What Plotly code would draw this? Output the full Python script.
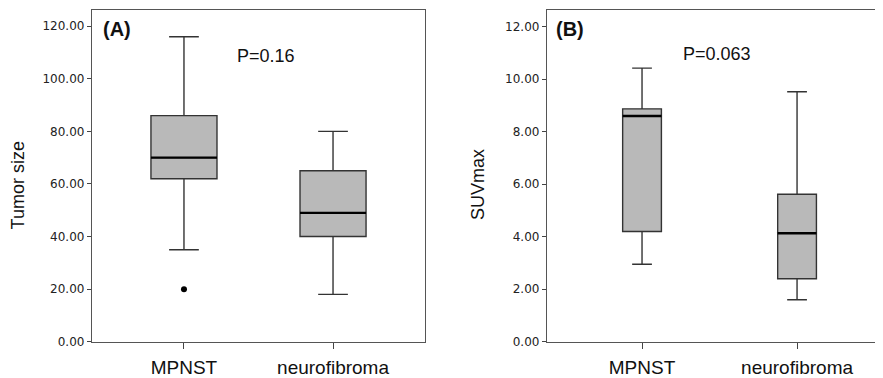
import plotly.graph_objects as go

categories = ["MPNST", "neurofibroma"]

# Panel A: Tumor size
a_q1 = [62.0, 40.0]
a_median = [70.0, 49.0]
a_q3 = [86.0, 65.0]
a_lower = [35.0, 18.0]
a_upper = [116.0, 80.0]
a_outliers_x = ["MPNST"]
a_outliers_y = [20.0]
a_ticks = [0, 20, 40, 60, 80, 100, 120]

# Panel B: SUVmax
b_q1 = [4.2, 2.4]
b_median = [8.6, 4.13]
b_q3 = [8.87, 5.62]
b_lower = [2.95, 1.6]
b_upper = [10.42, 9.52]
b_ticks = [0, 2, 4, 6, 8, 10, 12]

pos = list(range(len(categories)))
FILL = "#b9b9b9"
LINE = "#333333"
FONT = "Liberation Sans, Arial, sans-serif"
W, H = 875, 370

fig = go.Figure()


def add_panel(q1, med, q3, lo, hi, width, ww, xa, ya):
    fig.add_trace(go.Box(
        x=pos, q1=q1, median=med, q3=q3, lowerfence=lo, upperfence=hi,
        width=width, whiskerwidth=ww, fillcolor=FILL,
        line=dict(color=LINE, width=1.4), boxpoints=False,
        xaxis=xa, yaxis=ya, hoverinfo="skip", showlegend=False))
    mx, my = [], []
    for p, m in zip(pos, med):
        mx += [p - width / 2, p + width / 2, None]
        my += [m, m, None]
    fig.add_trace(go.Scatter(x=mx, y=my, mode="lines",
                             line=dict(color="black", width=2.4),
                             xaxis=xa, yaxis=ya, hoverinfo="skip",
                             showlegend=False))


add_panel(a_q1, a_median, a_q3, a_lower, a_upper, 0.443, 0.45, "x", "y")
fig.add_trace(go.Scatter(
    x=[categories.index(c) for c in a_outliers_x], y=a_outliers_y,
    mode="markers", marker=dict(color="black", size=6),
    xaxis="x", yaxis="y", hoverinfo="skip", showlegend=False))
add_panel(b_q1, b_median, b_q3, b_lower, b_upper, 0.25, 0.51, "x2", "y2")

xcommon = dict(tickmode="array", tickvals=pos, ticktext=categories,
               showline=True, mirror=True, linecolor="#555", linewidth=1.3,
               ticks="outside", ticklen=6, tickcolor="#444", showgrid=False,
               zeroline=False, ticklabelstandoff=2,
               tickfont=dict(family=FONT, size=19, color="#111"))
ycommon = dict(showline=True, mirror=True, linecolor="#555", linewidth=1.3,
               ticks="outside", ticklen=4, tickcolor="#444", showgrid=False,
               zeroline=False, tickfont=dict(family="DejaVu Sans", size=12, color="#222"))


def ann(text, x, y, size=17, angle=0):
    return dict(text=text, x=x / W, y=1 - y / H, xref="paper", yref="paper",
                xanchor="center", yanchor="middle", textangle=angle,
                showarrow=False, font=dict(family=FONT, size=size, color="#111"))


fig.update_layout(
    width=W, height=H,
    margin=dict(l=0, r=0, t=0, b=0),
    paper_bgcolor="white", plot_bgcolor="white",
    xaxis=dict(domain=[84 / W, 417 / W], range=[-0.617, 1.617], anchor="y", **xcommon),
    yaxis=dict(domain=[1 - 340.1 / H, 1 - 0.6 / H], range=[0, 126.3], anchor="x",
               tickvals=a_ticks, ticktext=[f"{v:.2f}" for v in a_ticks], **ycommon),
    xaxis2=dict(domain=[539 / W, 874 / W], range=[-0.613, 1.548], anchor="y2", **xcommon),
    yaxis2=dict(domain=[1 - 340.1 / H, 1 - 0.6 / H], range=[0, 12.65], anchor="x2",
                tickvals=b_ticks, ticktext=[f"{v:.2f}" for v in b_ticks], **ycommon),
    annotations=[
        ann("Tumor size", 9.5, 180.8, 18, -90),
        ann("SUVmax", 470, 179.8, 18, -90),
        ann("<b>(A)</b>", 108.5, 20.4, 20),
        ann("<b>(B)</b>", 562, 20.4, 20),
        ann("P=0.16", 258, 48, 18),
        ann("P=0.063", 709, 46, 18),
    ],
)

fig.write_html("out.html")
